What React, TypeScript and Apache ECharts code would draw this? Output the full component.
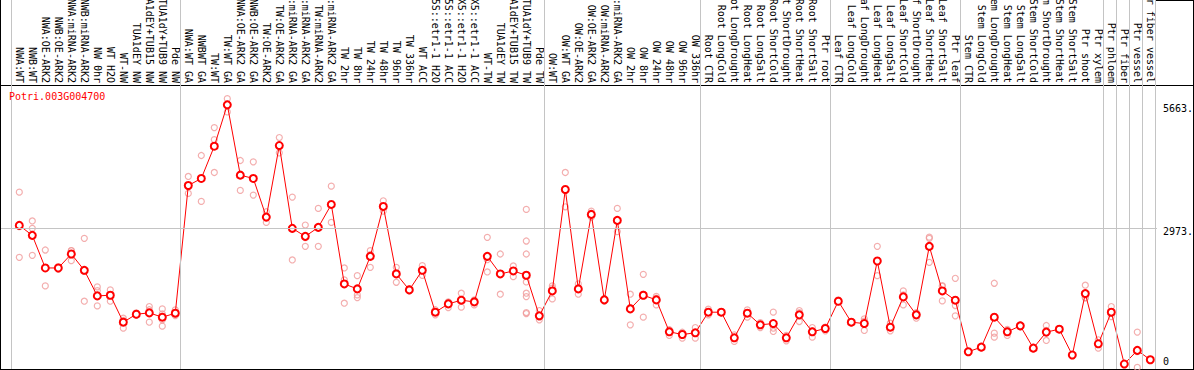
import React, { useEffect, useRef } from 'react';
import * as echarts from 'echarts';

const geneId = 'Potri.003G004700';

const categories = [
  'NWA:WT', 'NWB:WT', 'NWA:OE-ARK2', 'NWB:OE-ARK2', 'NWA:miRNA-ARK2', 'NWB:miRNA-ARK2',
  'NW 0hr', 'WT H2O', 'WT-NW', 'TUA1dEY NW', 'TUA1dEY+TUB15 NW', 'TUA1dY+TUB9 NW', 'Pde NW',
  'NWA:WT GA', 'NWBWT GA', 'TW:WT', 'TW:WT GA', 'NWA:OE-ARK2 GA', 'NWB:OE-ARK2 GA',
  'TW:OE-ARK2', 'TW:OE-ARK2 GA', 'NWA:miRNA-ARK2 GA', 'NWB:miRNA-ARK2 GA', 'TW:miRNA-ARK2',
  'TW:miRNA-ARK2 GA', 'TW 2hr', 'TW 8hr', 'TW 24hr', 'TW 48hr', 'TW 96hr', 'TW 336hr',
  'WT ACC', '35S::etr1-1 H2O', '35S::etr1-1 ACC', 'LMX5::etr1-1 H2O', 'LMX5::etr1-1 ACC',
  'WT-TW', 'TUA1dEY TW', 'TUA1dEY+TUB15 TW', 'TUA1dY+TUB9 TW', 'Pde TW',
  'OW:WT', 'OW:WT GA', 'OW:OE-ARK2', 'OW:OE-ARK2 GA', 'OW:miRNA-ARK2', 'OW:miRNA-ARK2 GA',
  'OW 2hr', 'OW 8hr', 'OW 24hr', 'OW 48hr', 'OW 96hr', 'OW 336hr',
  'Root CTR', 'Root LongCold', 'Root LongDrought', 'Root LongHeat', 'Root LongSalt',
  'Root ShortCold', 'Root ShortDrought', 'Root ShortHeat', 'Root ShortSalt', 'Ptr root',
  'Leaf CTR', 'Leaf LongCold', 'Leaf LongDrought', 'Leaf LongHeat', 'Leaf LongSalt',
  'Leaf ShortCold', 'Leaf ShortDrought', 'Leaf ShortHeat', 'Leaf ShortSalt', 'Ptr leaf',
  'Stem CTR', 'Stem LongCold', 'Stem LongDrought', 'Stem LongHeat', 'Stem LongSalt',
  'Stem ShortCold', 'Stem ShortDrought', 'Stem ShortHeat', 'Stem ShortSalt', 'Ptr shoot',
  'Ptr xylem', 'Ptr phloem', 'Ptr fiber', 'Ptr vessel', 'Ptr fiber vessel',
];

const means = [
  3037, 2820, 2110, 2110, 2414, 2059, 1502, 1516, 929, 1103, 1132, 1038, 1125,
  3906, 4059, 4761, 5663, 4131, 4059, 3218, 4776, 2973, 2798, 2994, 3493, 1762, 1654,
  2363, 3450, 1980, 1632, 2059, 1147, 1328, 1408, 1371, 2363, 1980, 2045, 1951, 1068,
  1610, 3819, 1654, 3276, 1415, 3146, 1219, 1516, 1415, 720, 661, 698,
  1147, 1147, 589, 1125, 872, 900, 589, 1089, 720, 792,
  1386, 929, 900, 2262, 820, 1480, 1089, 2581, 1610, 1408,
  286, 386, 1038, 720, 850, 364, 713, 777, 214, 1552,
  459, 1147, 18, 315, 111,
];

const replicates = [
  [3761, 2342, 3010], [3133, 2973, 2385], [2501, 1719, 2110], [2140, 2080, 2110],
  [2486, 2269, 2490], [2755, 1386, 2040], [1697, 1617, 1284], [1632, 1386, 1530],
  [1016, 799, 970], [1130, 1080, 1100], [1270, 929, 1200], [1219, 980, 843, 1110],
  [1197, 1074, 1105],
  [4102, 3733, 3880], [4559, 3559, 4060], [5167, 4906, 4189], [5797, 5507, 5680],
  [4450, 3798, 4140], [4421, 3697, 4060], [3334, 3102, 3220], [4950, 4617, 4760],
  [3654, 2284, 2980], [3045, 2581, 2770], [3407, 2581, 2990], [3892, 3102, 3490],
  [2110, 1849, 1342], [1943, 1523, 1465], [2486, 2124, 2400], [3573, 3349, 3430],
  [2124, 1798, 2010], [1660, 1610, 1630], [2160, 1950, 2060], [1089, 1200, 1150],
  [1371, 1248, 1360], [1560, 1256, 1410], [1415, 1306, 1390], [2777, 2023, 2290],
  [2414, 1538, 1990], [2153, 1921, 2060],
  [3385, 2697, 2414, 1805, 1560, 1487, 1118, 1140], [1183, 980, 1040],
  [1719, 1436, 1670], [4189, 3442, 3830], [1762, 1538, 1660], [3349, 3218, 3260],
  [1440, 1390, 1415], [3407, 2902, 3130], [1538, 872, 1250], [1972, 1038, 1540],
  [1451, 1306, 1490], [763, 640, 760], [690, 582, 710], [813, 582, 700],
  [1212, 1089, 1140], [1160, 1135, 1147], [654, 510, 600], [1197, 1038, 1140],
  [922, 813, 880], [1147, 799, 727], [640, 524, 600], [1183, 944, 1140],
  [813, 603, 745], [820, 741, 815],
  [1415, 1364, 1380], [944, 915, 929], [1002, 749, 950], [2581, 1943, 2262],
  [907, 741, 812], [1610, 1306, 1524], [1016, 1140, 1110], [2780, 2755, 2233],
  [1711, 1393, 1726], [1885, 1292, 1067],
  [300, 270, 288], [400, 372, 386], [1777, 690, 603], [771, 640, 750],
  [870, 830, 850], [380, 350, 364], [857, 531, 750], [790, 765, 777],
  [230, 200, 214], [1734, 1465, 1457],
  [364, 546, 467], [1270, 1052, 1120], [30, 5, 18], [713, -56, 290], [125, 100, 111],
];

// group separators are drawn just after these category indices
const separatorAfter = [-1, 12, 40, 52, 62, 72, 83, 84, 85, 86, 87];
const yTickValues = [0, 2973, 5663];
const yTickLabels = ['0', '2973.', '5663.'];
const gridLineValue = 2973;

export default function App() {
  const ref = useRef<HTMLDivElement>(null);

  useEffect(() => {
    const chart = echarts.init(ref.current!, null, { renderer: 'svg' });
    const mono = 'DejaVu Sans Mono';
    const step = 13;
    const firstX = 19.3;
    const gridLeft = 1;
    const gridWidth = 1156;
    const xMin = -(firstX - gridLeft) / step;
    const xMax = xMin + gridWidth / step;

    const repData: number[][] = [];
    replicates.forEach((reps, i) => reps.forEach((v) => repData.push([i, v])));

    const option: any = {
      animation: false,
      backgroundColor: '#ffffff',
      title: {
        text: geneId,
        left: 9,
        top: 91,
        padding: 0,
        textStyle: { color: '#ff0000', fontFamily: mono, fontSize: 10, fontWeight: 'normal' },
      },
      grid: [
        { left: gridLeft, top: 0, width: gridWidth, height: 369, outerBoundsMode: 'none', containLabel: false },
        {
          left: firstX - step / 2,
          top: 85,
          width: step * categories.length,
          height: 284,
          outerBoundsMode: 'none',
          containLabel: false,
        },
      ],
      xAxis: [
        { gridIndex: 0, type: 'value', min: xMin, max: xMax, show: false },
        {
          gridIndex: 1,
          type: 'category',
          position: 'top',
          data: categories,
          boundaryGap: true,
          axisLine: { show: false, onZero: false },
          axisTick: { show: false },
          splitLine: { show: false },
          axisLabel: {
            rotate: 90,
            interval: 0,
            margin: 2,
            hideOverlap: false,
            fontFamily: mono,
            fontSize: 10,
            color: '#000000',
          },
        },
      ],
      yAxis: [
        {
          gridIndex: 0,
          type: 'value',
          min: -90,
          max: 7945,
          position: 'right',
          axisLine: { show: false },
          axisTick: { show: false },
          splitLine: { show: false },
          axisLabel: {
            customValues: yTickValues,
            margin: 6,
            formatter: (v: number) => {
              const i = yTickValues.indexOf(v);
              const t = i >= 0 ? yTickLabels[i] : '';
              return v === 0 ? `{up|${t}}` : `{dn|${t}}`;
            },
            rich: {
              dn: { padding: [7, 0, 0, 0], fontFamily: mono, fontSize: 10, color: '#000000' },
              up: { padding: [0, 0, 7, 0], fontFamily: mono, fontSize: 10, color: '#000000' },
            },
          },
        },
        { gridIndex: 1, type: 'value', min: 0, max: 1, show: false },
      ],
      series: [
        {
          type: 'scatter',
          xAxisIndex: 0,
          yAxisIndex: 0,
          data: repData,
          symbol: 'circle',
          symbolSize: 6,
          itemStyle: { color: 'rgba(0,0,0,0)', borderColor: '#f09a9a', borderWidth: 1.2 },
          z: 2,
          silent: true,
          markLine: {
            silent: true,
            symbol: ['none', 'none'],
            label: { show: false },
            lineStyle: { color: '#c4c4c4', width: 1, type: 'solid' },
            data: [
              ...separatorAfter.map((i) => ({ xAxis: i + 0.385 })),
              { yAxis: gridLineValue },
            ],
          },
        },
        {
          type: 'line',
          xAxisIndex: 0,
          yAxisIndex: 0,
          data: means.map((v, i) => [i, v]),
          symbol: 'emptyCircle',
          symbolSize: 7,
          lineStyle: { color: '#ff0000', width: 1 },
          itemStyle: { color: '#ff0000', borderColor: '#ff0000', borderWidth: 1.6 },
          z: 3,
          silent: true,
        },
      ],
      graphic: [
        { type: 'line', shape: { x1: 0.5, y1: 0, x2: 0.5, y2: 370 }, style: { stroke: '#000', lineWidth: 1 }, silent: true },
        { type: 'line', shape: { x1: 0, y1: 369.5, x2: 1194, y2: 369.5 }, style: { stroke: '#000', lineWidth: 1 }, silent: true },
        { type: 'line', shape: { x1: 1193.5, y1: 0, x2: 1193.5, y2: 370 }, style: { stroke: '#000', lineWidth: 1 }, silent: true },
        { type: 'line', shape: { x1: 0, y1: 85.5, x2: 1194, y2: 85.5 }, style: { stroke: '#000', lineWidth: 1 }, silent: true },
        { type: 'line', shape: { x1: 1155, y1: 0.5, x2: 1194, y2: 0.5 }, style: { stroke: '#000', lineWidth: 1 }, silent: true },
      ],
    };

    chart.setOption(option);
    return () => chart.dispose();
  }, []);

  return (
    <div
      ref={ref}
      style={{ position: 'absolute', left: 0, top: 0, width: 1194, height: 370, background: '#ffffff' }}
    />
  );
}
